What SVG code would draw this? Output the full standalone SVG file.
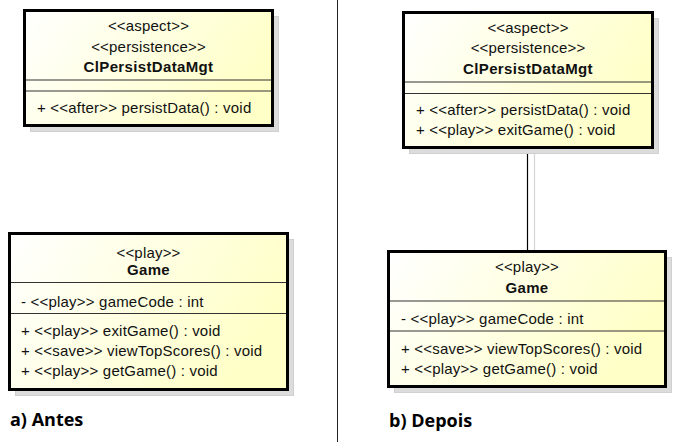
<svg xmlns="http://www.w3.org/2000/svg" width="688" height="442" viewBox="0 0 688 442">
<defs>
<linearGradient id="fillGrad" x1="0" y1="0" x2="1" y2="0.35">
<stop offset="0" stop-color="#ffffff"/>
<stop offset="1" stop-color="#ffffc8"/>
</linearGradient>
</defs>
<style>
.shadow{fill:#dcdcdc;stroke:#d0d0d0;stroke-width:1}
.box{fill:url(#fillGrad);stroke:#000;stroke-width:3}
.div{stroke:#333;stroke-width:1.2}
.t{font-family:"Liberation Sans",Arial,sans-serif;font-size:15px;fill:#111;letter-spacing:0.2px}
.c{text-anchor:middle}
.b{font-weight:bold;letter-spacing:0.35px}
.cap{font-family:"Open Sans","Liberation Sans",sans-serif;font-size:18px;font-weight:bold;fill:#000}
.sep{stroke:#222;stroke-width:1}
.conn{stroke:#000;stroke-width:1.2}
.connShadow{stroke:#d4d4d4;stroke-width:1.2}
</style>
<rect x="0" y="0" width="688" height="442" fill="#fff"/>
<line class="sep" x1="337.5" y1="0" x2="337.5" y2="442"/>
<g id="connectors">
<line class="connShadow" x1="534.5" y1="149" x2="534.5" y2="257"/>
<line class="conn" x1="527.5" y1="149" x2="527.5" y2="251"/>
</g>
<g id="a-ClPersistDataMgt">
<rect class="shadow" x="30.5" y="16.5" width="248" height="115"/>
<rect class="box" x="24.5" y="10.5" width="248" height="115"/>
<line class="div" x1="26" y1="80" x2="271" y2="80"/>
<line class="div" x1="26" y1="91" x2="271" y2="91"/>
<text class="t c" x="148.5" y="31">&lt;&lt;aspect&gt;&gt;</text>
<text class="t c" x="148.5" y="51.5">&lt;&lt;persistence&gt;&gt;</text>
<text class="t c b" x="148.5" y="72">ClPersistDataMgt</text>
<text class="t" x="37" y="113">+ &lt;&lt;after&gt;&gt; persistData() : void</text>
</g>
<g id="a-Game">
<rect class="shadow" x="15.5" y="239.5" width="278" height="156"/>
<rect class="box" x="9.5" y="233.5" width="278" height="156"/>
<line class="div" x1="11" y1="282.5" x2="286" y2="282.5"/>
<line class="div" x1="11" y1="313.5" x2="286" y2="313.5"/>
<text class="t c" x="148.5" y="258">&lt;&lt;play&gt;&gt;</text>
<text class="t c b" x="148.5" y="274.5">Game</text>
<text class="t" x="21" y="306.5">- &lt;&lt;play&gt;&gt; gameCode : int</text>
<text class="t" x="21" y="336">+ &lt;&lt;play&gt;&gt; exitGame() : void</text>
<text class="t" x="21" y="356">+ &lt;&lt;save&gt;&gt; viewTopScores() : void</text>
<text class="t" x="21" y="376">+ &lt;&lt;play&gt;&gt; getGame() : void</text>
</g>
<g id="b-ClPersistDataMgt">
<rect class="shadow" x="409.5" y="18.5" width="249" height="135"/>
<rect class="box" x="403.5" y="12.5" width="249" height="135"/>
<line class="div" x1="405" y1="82" x2="651" y2="82"/>
<line class="div" x1="405" y1="93.5" x2="651" y2="93.5"/>
<text class="t c" x="528" y="33">&lt;&lt;aspect&gt;&gt;</text>
<text class="t c" x="528" y="53">&lt;&lt;persistence&gt;&gt;</text>
<text class="t c b" x="528" y="74">ClPersistDataMgt</text>
<text class="t" x="416" y="115">+ &lt;&lt;after&gt;&gt; persistData() : void</text>
<text class="t" x="416" y="135">+ &lt;&lt;play&gt;&gt; exitGame() : void</text>
</g>
<g id="b-Game">
<rect class="shadow" x="394.5" y="257.5" width="277" height="135"/>
<rect class="box" x="388.5" y="251.5" width="277" height="135"/>
<line class="div" x1="390" y1="301" x2="664" y2="301"/>
<line class="div" x1="390" y1="331" x2="664" y2="331"/>
<text class="t c" x="527" y="272">&lt;&lt;play&gt;&gt;</text>
<text class="t c b" x="527" y="292.5">Game</text>
<text class="t" x="401" y="323.5">- &lt;&lt;play&gt;&gt; gameCode : int</text>
<text class="t" x="401" y="353.5">+ &lt;&lt;save&gt;&gt; viewTopScores() : void</text>
<text class="t" x="401" y="374">+ &lt;&lt;play&gt;&gt; getGame() : void</text>
</g>
<text class="cap" x="10" y="426">a) Antes</text>
<text class="cap" x="389" y="427">b) Depois</text>
</svg>
